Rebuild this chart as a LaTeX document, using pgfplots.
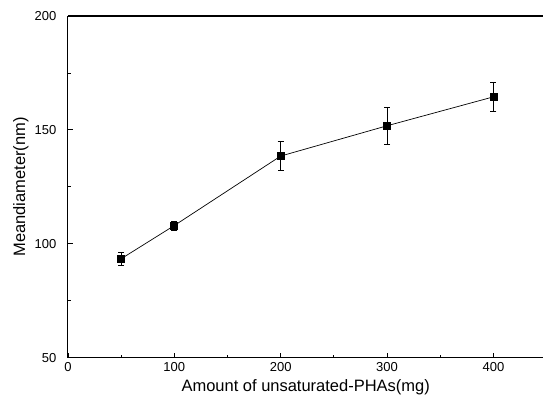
\documentclass[border=0pt]{standalone}
\usepackage{pgfplots}
\pgfplotsset{compat=1.18}
\usepackage{fontspec}
\setmainfont{Liberation Sans}
\begin{document}
\begin{tikzpicture}
\begin{axis}[
  scale only axis,
  width=476pt, height=342pt,
  xmin=0, xmax=447, ymin=50, ymax=200,
  axis x line=box, axis y line=left,
  axis line style={line width=1.1pt,-},
  xtick={0,100,200,300,400},
  ytick={50,100,150,200},
  minor x tick num=1, minor y tick num=1,
  xtick pos=bottom, ytick pos=left,
  tick align=inside,
  major tick length=5pt, minor tick length=3pt,
  tick style={black, line width=0.8pt},
  /pgf/number format/assume math mode=true,
  ticklabel style={font=\fontsize{13}{15}\selectfont},
  yticklabel style={xshift=-8pt},
  xticklabel style={yshift=-1pt},
  xlabel={Amount of unsaturated-PHAs(mg)},
  ylabel={Meandiameter(nm)},
  label style={font=\fontsize{16.5}{19}\selectfont},
  xlabel style={at={(axis description cs:0.5,0)}, anchor=center, yshift=-30pt},
  ylabel style={at={(axis description cs:0,0.5)}, anchor=center, yshift=47pt},
  clip=false,
]
\addplot[black, line width=0.7pt, mark=square*, mark size=3.5pt,
  error bars/.cd, y dir=both, y explicit,
  error bar style={line width=0.7pt}, error mark options={rotate=90, mark size=3pt, line width=0.7pt}]
  table[x=x, y=y, y error=e] {
  x y e
  50 93.4 3.0
  100 108.0 2.0
  200 138.5 6.4
  300 151.8 8.1
  400 164.5 6.2
  };
\end{axis}
\path[use as bounding box] (-68pt,-50pt) rectangle (476pt,358pt);
\end{tikzpicture}
\end{document}
